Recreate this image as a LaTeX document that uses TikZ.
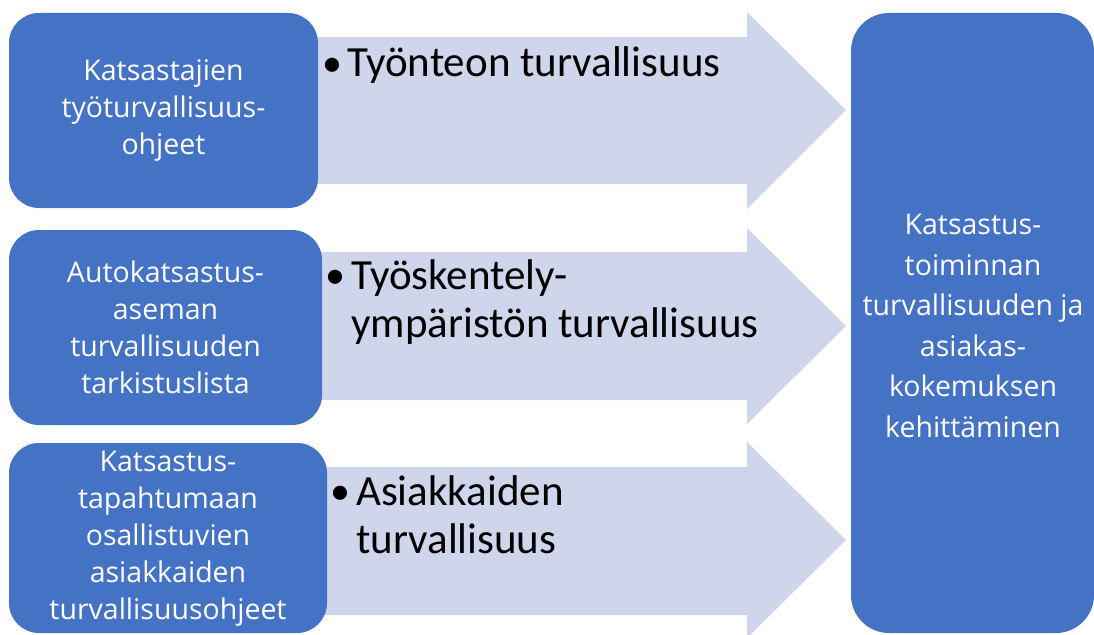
\documentclass[tikz,border=0pt]{standalone}
\usepackage{fontspec}
\setmainfont{Carlito}
\newfontfamily\boxfont{Open Sans}
\definecolor{boxblue}{HTML}{4472C4}
\definecolor{arrowfill}{HTML}{CFD5EA}
\tikzset{
  bluebox/.style={fill=boxblue, draw=none, rounded corners=30pt},
  boxtext/.style={text=white, align=center, font=\boxfont\fontsize{28.5}{37}\selectfont, inner sep=0pt},
  righttext/.style={text=white, align=center, font=\boxfont\fontsize{28.5}{40.6}\selectfont, inner sep=0pt},
  blockarrow/.style={fill=arrowfill, draw=none},
  arrowtext/.style={text=black, anchor=base west, font=\fontsize{43}{49}\selectfont, inner sep=0pt},
  bullettext/.style={text=black, anchor=base west, font=\fontsize{40}{49}\selectfont, inner sep=0pt},
}
\begin{document}
\begin{tikzpicture}[x=1pt,y=-1pt]
\useasboundingbox (0,0) rectangle (1094,634);
% block arrows
\fill[blockarrow] (280,37) -- (747,37) -- (747,12) -- (846,110) -- (747,209) -- (747,184) -- (280,184) -- cycle;
\fill[blockarrow] (280,252) -- (747,252) -- (747,228) -- (846,326) -- (747,424) -- (747,400) -- (280,400) -- cycle;
\fill[blockarrow] (280,467) -- (747,467) -- (747,442) -- (846,540) -- (747,638) -- (747,615) -- (280,615) -- cycle;
% left boxes
\fill[bluebox] (9,13) rectangle (318,208);
\fill[bluebox] (9,230) rectangle (322,425);
\fill[bluebox] (9,443) rectangle (327,633);
% right box
\fill[bluebox, rounded corners=38pt] (851,13) rectangle (1094,633);
% box texts
\node[boxtext] (b1) at (163.5,110.5) {Katsastajien\\työturvallisuus-\\ohjeet};
\node[boxtext] (b2) at (165.5,327.5) {Autokatsastus-\\aseman\\turvallisuuden\\tarkistuslista};
\node[boxtext] (b3) at (168,539) {Katsastus-\\tapahtumaan\\osallistuvien\\asiakkaiden\\turvallisuusohjeet};
\node[righttext] (r) at (973,326) {Katsastus-\\toiminnan\\turvallisuuden ja\\asiakas-\\kokemuksen\\kehittäminen};
% arrow texts
\node[bullettext] (d1) at (322,76) {\textbullet};
\node[arrowtext] (t1) at (347,77) {Työnteon turvallisuus};
\node[bullettext] (d2) at (325,288) {\textbullet};
\node[arrowtext] (t2a) at (351,289) {Työskentely-};
\node[arrowtext] (t2b) at (351,337) {ympäristön turvallisuus};
\node[bullettext] (d3) at (330,504) {\textbullet};
\node[arrowtext] (t3a) at (356,505) {Asiakkaiden};
\node[arrowtext] (t3b) at (356,553) {turvallisuus};
\end{tikzpicture}
\end{document}
